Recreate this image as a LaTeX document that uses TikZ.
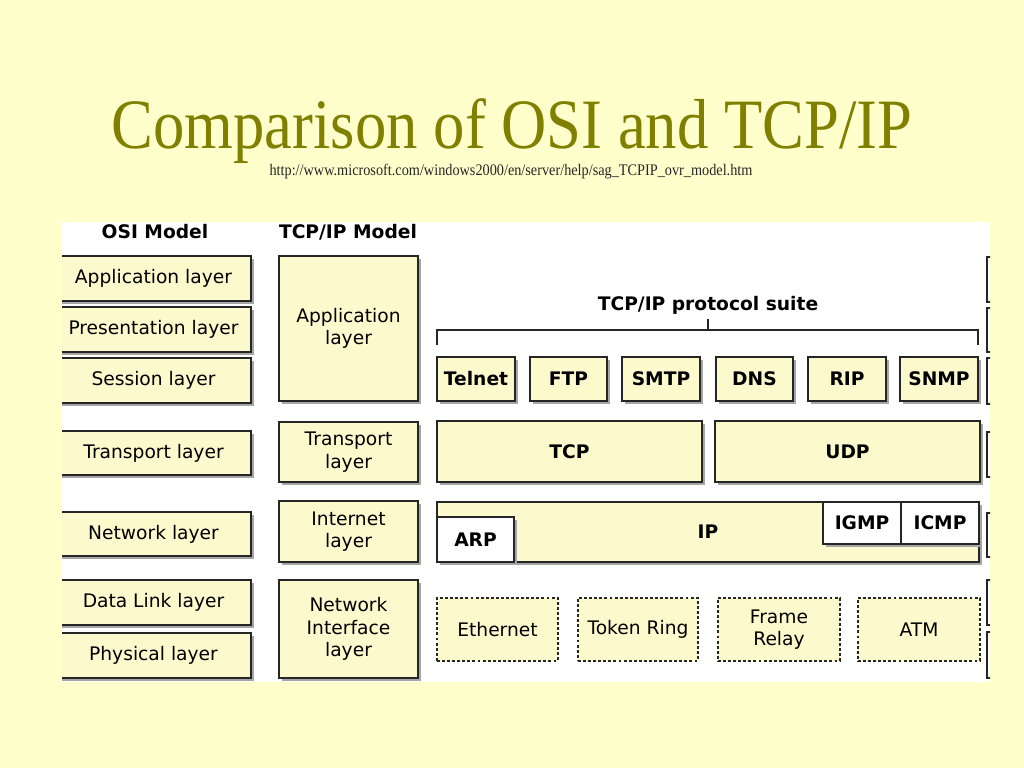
\documentclass[tikz,border=0pt]{standalone}
\usepackage{fontspec}
\setmainfont{Liberation Serif}
\newfontfamily\diagfont{DejaVu Sans}
\usetikzlibrary{shadows}

\definecolor{slidebg}{RGB}{255,255,204}
\definecolor{boxfill}{RGB}{252,250,205}
\definecolor{titleolive}{RGB}{128,128,0}

\tikzset{
  layerbox/.style={draw=black!85, line width=0.9pt, fill=boxfill, inner sep=0pt, align=center,
    font=\diagfont\fontsize{14}{17}\selectfont,
    drop shadow={shadow xshift=2pt, shadow yshift=-2pt, fill=black!35, opacity=1}},
  protobox/.style={layerbox, font=\diagfont\bfseries\fontsize{14}{17}\selectfont},
  whitebox/.style={protobox, fill=white},
  linkbox/.style={draw=black!85, line width=1.1pt, dash pattern=on 2.2pt off 1.6pt, fill=boxfill,
    inner sep=0pt, align=center, font=\diagfont\fontsize{14}{17}\selectfont},
  header/.style={font=\diagfont\bfseries\fontsize{14}{17}\selectfont, anchor=base},
}

\begin{document}
\begin{tikzpicture}[x=0.75pt, y=-0.75pt]
  \fill[slidebg] (0,0) rectangle (1024,768);
  \useasboundingbox (0,0) rectangle (1024,768);

  % title and source
  \node[anchor=base, inner sep=0pt, text=titleolive, font=\fontsize{47}{50}\selectfont] (title) at (512,148)
    {\scalebox{1}[1.13]{Comparison of OSI and TCP/IP}};
  \node[anchor=base, inner sep=0pt, text=black!85, font=\fontsize{10.7}{12}\selectfont] (source) at (511,175)
    {\scalebox{1}[1.13]{http://www.microsoft.com/windows2000/en/server/help/sag\_TCPIP\_ovr\_model.htm}};

  % white panel
  \fill[white] (62,222) rectangle (990,682);

  \begin{scope}
    \clip (62,222) rectangle (990,682);

    \node[header] (osihead) at (155,238) {OSI Model};
    \node[header] (tcphead) at (348,238) {TCP/IP Model};

    % OSI model
    \node[layerbox, minimum width=146.25pt, minimum height=33.75pt] (osiapp) at (153.5,278.5) {Application layer};
    \node[layerbox, minimum width=146.25pt, minimum height=33.75pt] (osipres) at (153.5,329.5) {Presentation layer};
    \node[layerbox, minimum width=146.25pt, minimum height=33.75pt] (osisess) at (153.5,380.5) {Session layer};
    \node[layerbox, minimum width=146.25pt, minimum height=33pt] (ositrans) at (153.5,453) {Transport layer};
    \node[layerbox, minimum width=146.25pt, minimum height=33pt] (osinet) at (153.5,534) {Network layer};
    \node[layerbox, minimum width=146.25pt, minimum height=33.75pt] (osidl) at (153.5,602.5) {Data Link layer};
    \node[layerbox, minimum width=146.25pt, minimum height=33.75pt] (osiphys) at (153.5,655.5) {Physical layer};

    % TCP/IP model
    \node[layerbox, minimum width=104.25pt, minimum height=108.75pt] (tcpapp) at (348.5,328.5) {Application\\layer};
    \node[layerbox, minimum width=104.25pt, minimum height=45pt] (tcptrans) at (348.5,452) {Transport\\layer};
    \node[layerbox, minimum width=104.25pt, minimum height=45.75pt] (tcpinet) at (348.5,531.5) {Internet\\layer};
    \node[layerbox, minimum width=104.25pt, minimum height=73.5pt] (tcpnif) at (348.5,629) {Network\\Interface\\layer};

    % protocol suite
    \node[header, anchor=center] (suite) at (708,305) {TCP/IP protocol suite};
    \coordinate (suiteL) at (437,345);
    \coordinate (suiteR) at (978,345);
    \coordinate (suitebar) at (708,330);
    \draw[line width=0.8pt, black!85] (suiteL) -- ++(0,-15) -| (suiteR);
    \draw[line width=0.8pt, black!85] (suite.south) -- (suitebar);

    \node[protobox, minimum width=58.5pt, minimum height=33pt] (telnet) at (476,379) {Telnet};
    \node[protobox, minimum width=57.75pt, minimum height=33pt] (ftp) at (568.5,379) {FTP};
    \node[protobox, minimum width=58.5pt, minimum height=33pt] (smtp) at (661,379) {SMTP};
    \node[protobox, minimum width=57.75pt, minimum height=33pt] (dns) at (754.5,379) {DNS};
    \node[protobox, minimum width=58.5pt, minimum height=33pt] (rip) at (847,379) {RIP};
    \node[protobox, minimum width=58.5pt, minimum height=33pt] (snmp) at (939,379) {SNMP};

    \node[protobox, minimum width=198.75pt, minimum height=45.75pt] (tcp) at (569.5,451.5) {TCP};
    \node[protobox, minimum width=198.75pt, minimum height=45.75pt] (udp) at (847.5,451.5) {UDP};

    \node[protobox, minimum width=406.5pt, minimum height=45pt] (ip) at (708,532) {IP};
    \node[whitebox, minimum width=57.75pt, minimum height=33.75pt] (arp) at (475.5,539.5) {ARP};
    \node[whitebox, minimum width=58.5pt, minimum height=31.5pt] (igmp) at (862,523) {IGMP};
    \node[whitebox, minimum width=58.5pt, minimum height=31.5pt] (icmp) at (940,523) {ICMP};

    \node[linkbox, minimum width=90.75pt, minimum height=47.25pt] (ethernet) at (497.5,629.5) {Ethernet};
    \node[linkbox, minimum width=90pt, minimum height=47.25pt] (tokenring) at (638,629.5) {Token Ring};
    \node[linkbox, minimum width=91.5pt, minimum height=47.25pt] (framerelay) at (779,629.5) {Frame\\Relay};
    \node[linkbox, minimum width=91.5pt, minimum height=47.25pt] (atm) at (919,629.5) {ATM};

    % next column, cut off at the panel edge
    \foreach \ya/\yb in {257/302, 308/352, 358/404, 432/477, 513/557, 580/625, 632/678}
      \draw[line width=0.9pt, black!85] (987,\ya) rectangle (1060,\yb);
  \end{scope}
\end{tikzpicture}
\end{document}
